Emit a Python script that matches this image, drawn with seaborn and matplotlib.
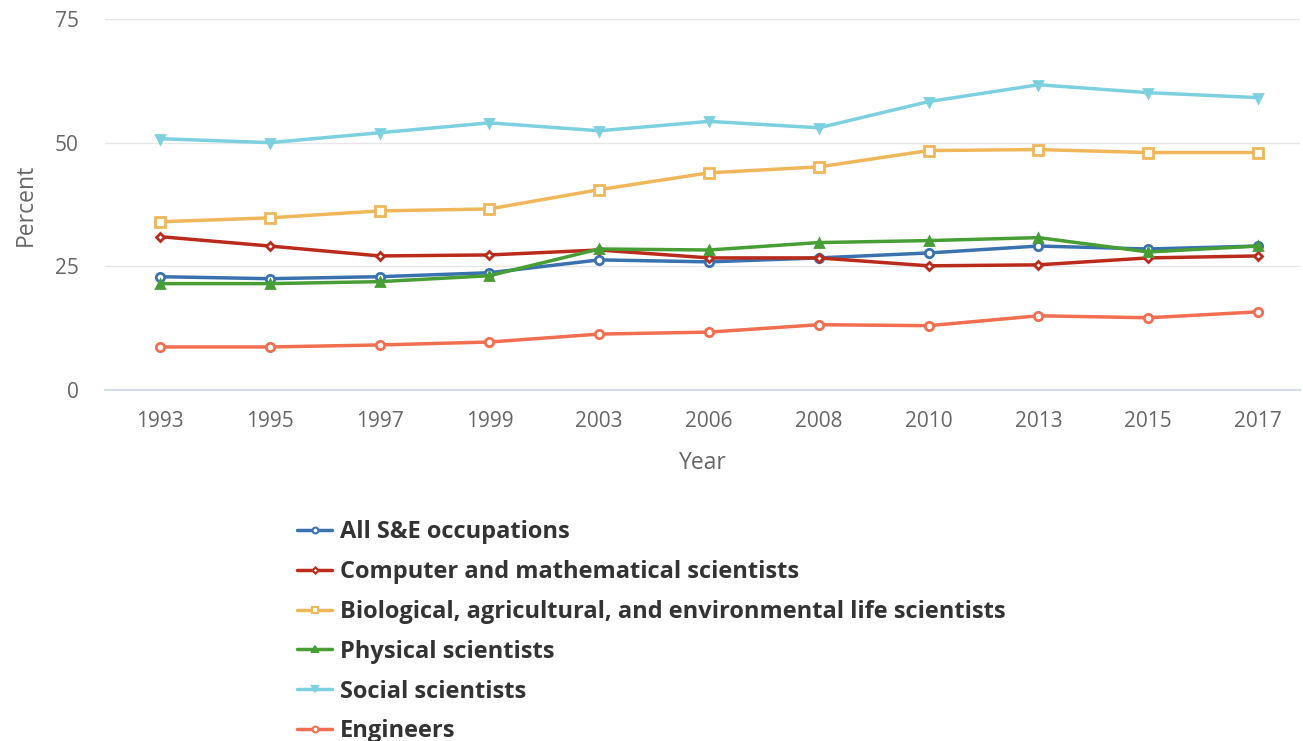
import seaborn as sns
import pandas as pd
import matplotlib.pyplot as plt
from matplotlib.lines import Line2D

years = ["1993", "1995", "1997", "1999", "2003", "2006", "2008", "2010", "2013", "2015", "2017"]

all_se = [22.9, 22.5, 22.9, 23.7, 26.3, 25.9, 26.7, 27.7, 29.1, 28.5, 29.1]
computer = [31.0, 29.1, 27.1, 27.3, 28.3, 26.7, 26.7, 25.1, 25.3, 26.7, 27.1]
biological = [34.0, 34.8, 36.2, 36.6, 40.5, 43.9, 45.1, 48.4, 48.6, 48.0, 48.0]
physical = [21.5, 21.5, 21.9, 23.1, 28.5, 28.3, 29.8, 30.2, 30.8, 27.9, 29.1]
social = [50.8, 50.0, 52.0, 54.0, 52.4, 54.3, 53.0, 58.3, 61.7, 60.1, 59.1]
engineers = [8.7, 8.7, 9.1, 9.7, 11.3, 11.7, 13.2, 13.0, 15.0, 14.6, 15.8]

names = ["All S&E occupations",
         "Computer and mathematical scientists",
         "Biological, agricultural, and environmental life scientists",
         "Physical scientists",
         "Social scientists",
         "Engineers"]
series = [all_se, computer, biological, physical, social, engineers]
colors = ["#3a72b0", "#bb2b1c", "#f0b75a", "#479e35", "#7dd0df", "#f26e50"]
markers = ["o", "D", "s", "^", "v", "o"]
msizes = [6, 4.5, 6.5, 5.5, 6, 6]
faces = ["white", "white", "white", None, None, "white"]

rows = []
for name, vals in zip(names, series):
    for y, v in zip(years, vals):
        rows.append({"Year": y, "Percent": v, "Group": name})
df = pd.DataFrame(rows)

sns.set_style("white")
plt.rcParams['font.family'] = ['Open Sans', 'DejaVu Sans']

fig = plt.figure(figsize=(13.03, 7.41), dpi=100)
ax = fig.add_axes([0.0806, 0.4737, 0.917, 0.5007])

for name, c, m, ms, fc in zip(names, colors, markers, msizes, faces):
    kw = dict(marker=m, markersize=ms, markeredgewidth=2, color=c, markeredgecolor=c, linewidth=2.5)
    if fc:
        kw["markerfacecolor"] = fc
    sns.lineplot(data=df[df["Group"] == name], x="Year", y="Percent", ax=ax, **kw)

ax.set_ylim(0, 75)
ax.set_xlim(-0.5, 10.38)
ax.set_yticks([0, 25, 50, 75])
ax.yaxis.grid(True, color="#e6e6e6", linewidth=1)
ax.xaxis.grid(False)
for s in ["top", "right", "left"]:
    ax.spines[s].set_visible(False)
ax.spines["bottom"].set_color("#ccd6eb")
ax.spines["bottom"].set_linewidth(1.2)
ax.tick_params(axis="x", colors="#ccd6eb", length=10, width=1, labelcolor="#666666", labelsize=15, pad=5)
ax.tick_params(axis="y", length=0, labelcolor="#666666", labelsize=15, pad=19)
ax.set_xlabel("Year", fontsize=16.5, color="#666666", labelpad=14)
ax.set_ylabel("Percent", fontsize=16.5, color="#666666", labelpad=12)

handles = []
for name, c, m, ms, fc in zip(names, colors, markers, msizes, faces):
    handles.append(Line2D([0], [0], color=c, marker=m, markersize=ms * 0.7, markeredgewidth=1.5,
                          markerfacecolor=fc if fc else c, markeredgecolor=c, linewidth=2.5))
leg = fig.legend(handles, names, loc="upper left", bbox_to_anchor=(0.212, 0.3266), frameon=False,
                 handlelength=1.45, handletextpad=0.35, labelspacing=0.67,
                 prop={"weight": "bold", "size": 17})
for t in leg.get_texts():
    t.set_color("#333333")

fig.savefig("out.png", dpi=100)
